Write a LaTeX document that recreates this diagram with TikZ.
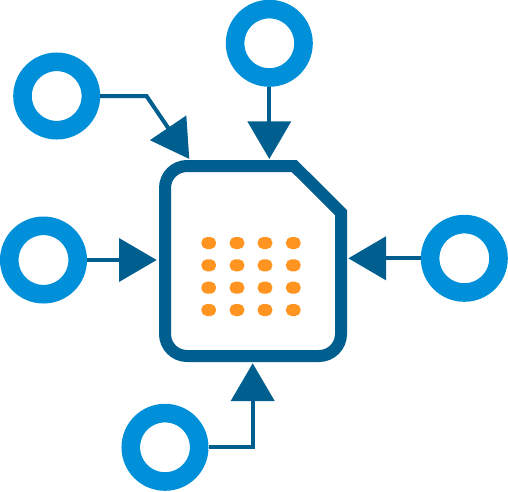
\documentclass[tikz,border=0pt]{standalone}
\usetikzlibrary{arrows.meta}
\definecolor{ringblue}{HTML}{0090D9}
\definecolor{darkblue}{HTML}{005F8F}
\definecolor{dotorange}{HTML}{FF9421}
\tikzset{
  ring/.style={circle,draw=ringblue,line width=18.6pt,minimum size=68.4pt,inner sep=0pt},
  link/.style={draw=darkblue,line width=4pt,miter limit=10,
    -{Triangle[length=37.7pt,width=43pt,fill=darkblue]}},
  outline/.style={draw=darkblue,fill=white,line width=12pt,line join=miter},
  dot/.style={rectangle,fill=dotorange,rounded corners=5.5pt,minimum width=14.7pt,minimum height=12pt,inner sep=0pt},
}
\begin{document}
\begin{tikzpicture}[x=1pt,y=-1pt]
\useasboundingbox (0,0) rectangle (508,491);
% chip outline (y axis points down, so arc angles run clockwise on the page)
\draw[outline] (165,188) arc[start angle=180,end angle=270,radius=22] -- (294.2,166) -- (341,212.5)
  -- (341,334) arc[start angle=0,end angle=90,radius=22] -- (187,356)
  arc[start angle=90,end angle=180,radius=22] -- cycle;
% dots
\foreach \i/\x in {1/208.7,2/237,3/265,4/293.3}
  \foreach \j/\y in {1/243,2/265.3,3/287.7,4/310}
    \node[dot] (dot\i\j) at (\x,\y) {};
% rings
\node[ring] (topleft) at (56.7,96) {};
\node[ring] (top) at (269.3,43.3) {};
\node[ring] (left) at (43.5,260) {};
\node[ring] (right) at (464.3,258.3) {};
\node[ring] (bottom) at (165,447.3) {};
% connector ends
\coordinate (tipTL) at (189.3,159);
\coordinate (bendTL) at (146.5,96);
\coordinate (tipT) at (269.3,159);
\coordinate (tipL) at (156.7,260);
\coordinate (tipR) at (348.3,258.3);
\coordinate (tipB) at (252.7,363.3);
% connectors
\draw[link] (topleft.east) -- (bendTL) -- (tipTL);
\draw[link] (top.south) -- (tipT);
\draw[link] (left.east) -- (tipL);
\draw[link] (right.west) -- (tipR);
\draw[link] (bottom.east) -| (tipB);
\end{tikzpicture}
\end{document}
